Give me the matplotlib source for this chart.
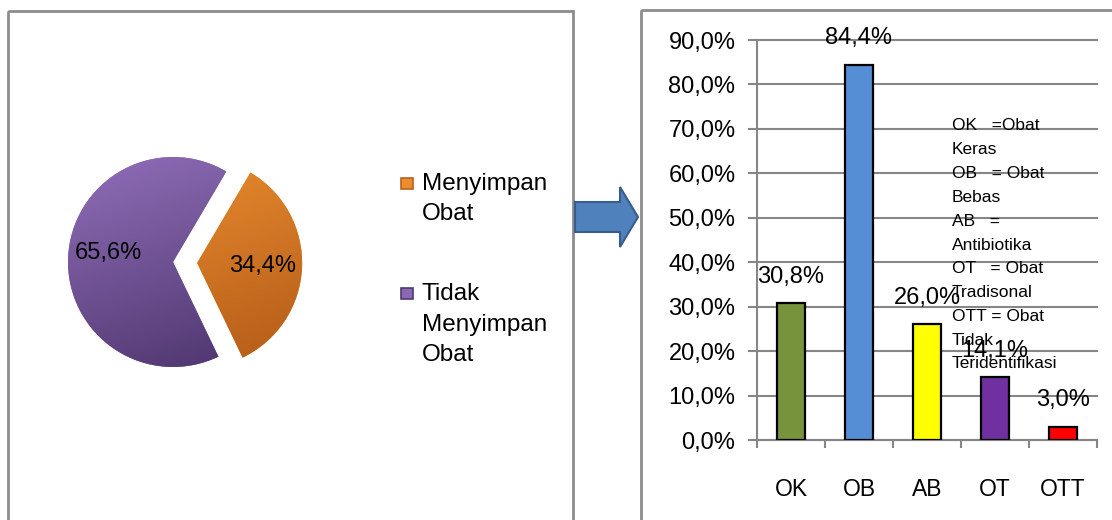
import matplotlib
matplotlib.use('Agg')
import matplotlib.pyplot as plt
import numpy as np
from matplotlib.patches import Rectangle, Polygon
from matplotlib.colors import LinearSegmentedColormap

# ---------------- data ----------------
pie_labels = ['Menyimpan\nObat', 'Tidak\nMenyimpan\nObat']
pie_values = [34.4, 65.6]
pie_top_colors = ['#EA8D2F', '#8A69B2']
pie_bottom_colors = ['#BA611B', '#523972']

bar_categories = ['OK', 'OB', 'AB', 'OT', 'OTT']
bar_values = [30.8, 84.4, 26.0, 14.1, 3.0]
bar_colors = ['#77933C', '#558ED5', '#FFFF00', '#7030A0', '#FF0000']
y_ticks = [0, 10, 20, 30, 40, 50, 60, 70, 80, 90]

notes = ['OK   =Obat', 'Keras', 'OB   = Obat', 'Bebas', 'AB   =',
         'Antibiotika', 'OT   = Obat', 'Tradisonal', 'OTT = Obat',
         'Tidak', 'Teridentifikasi']

plt.rcParams['font.family'] = ['Liberation Sans', 'DejaVu Sans']

W, H = 1112, 520
fig = plt.figure(figsize=(W / 100, H / 100), dpi=100)


def px_axes(x0, y0, w, h):
    """axes from top-left pixel box"""
    return fig.add_axes([x0 / W, 1 - (y0 + h) / H, w / W, h / H])


def pct(v):
    return f'{v:.1f}%'.replace('.', ',')


GRAY = '#8C8C8C'

# ---------------- background: panels + arrow ----------------
bg = px_axes(0, 0, W, H)
bg.set_xlim(0, W)
bg.set_ylim(H, 0)
bg.axis('off')
bg.set_zorder(0)
bg.add_patch(Rectangle((8, 11), 565, 600, fill=False, ec=GRAY, lw=2))
bg.add_patch(Rectangle((641, 10), 600, 600, fill=False, ec=GRAY, lw=2))
arrow_pts = [(575, 202), (620, 202), (620, 187), (638, 217),
             (620, 247), (620, 232), (575, 232)]
bg.add_patch(Polygon(arrow_pts, closed=True, fc='#4F81BD', ec='#385D8A',
                     lw=1.5, zorder=5))

# legend for the pie
y0 = 184
for i, label in enumerate(pie_labels):
    lines = label.split('\n')
    bg.add_patch(Rectangle((401, y0 - 6), 12, 11, fc=pie_top_colors[i],
                           ec=pie_bottom_colors[i], lw=1.2, zorder=3))
    for j, line in enumerate(lines):
        bg.text(422, y0 + j * 30.5, line, va='center', ha='left',
                fontsize=17.5, color='black')
    y0 += 110

# ---------------- pie ----------------
R = 150 / 105
ax_pie = px_axes(173 - 150, 262 - 150, 300, 300)
ax_pie.set_zorder(2)
wedges, texts, autotexts = ax_pie.pie(
    pie_values, startangle=59.5, counterclock=False, explode=[0.23, 0],
    autopct=pct, pctdistance=0.62, colors=pie_top_colors,
    textprops=dict(fontsize=17, color='black'),
    wedgeprops=dict(linewidth=0))
# nudge the larger label slightly upward like the reference
px, py = autotexts[1].get_position()
autotexts[1].set_position((px, py + 0.06))

yy, xx = np.mgrid[-R:R:300j, -R:R:300j]
grad = yy - 0.35 * xx
for w, ct, cb in zip(wedges, pie_top_colors, pie_bottom_colors):
    cmap = LinearSegmentedColormap.from_list('g', [cb, ct])
    im = ax_pie.imshow(grad, extent=[-R, R, -R, R], origin='lower',
                       cmap=cmap, vmin=-1.1, vmax=1.1,
                       zorder=w.get_zorder() + 0.1, interpolation='bilinear')
    im.set_clip_path(w)
for t in autotexts:
    t.set_zorder(5)
ax_pie.set_xlim(-R, R)
ax_pie.set_ylim(-R, R)
ax_pie.set_aspect('equal')
ax_pie.axis('off')

# ---------------- bar chart ----------------
ax = px_axes(757, 40, 340, 400)
ax.set_zorder(2)
ax.patch.set_alpha(0)
x = np.arange(len(bar_categories))
bars = ax.bar(x, bar_values, width=0.42, color=bar_colors,
              edgecolor='black', linewidth=1.6, zorder=3)
ax.set_xlim(-0.5, len(bar_categories) - 0.5)
ax.set_ylim(0, 90)
ax.set_yticks(y_ticks)
ax.set_yticklabels([pct(v) for v in y_ticks], fontsize=17)
ax.yaxis.grid(True, color='#868686', lw=1.5)
for gl in ax.get_ygridlines():
    gl.set_clip_on(False)
ax.set_axisbelow(True)
ax.tick_params(axis='y', length=6.5, width=1.5, color='#868686', pad=9)
ax.set_xticks(x)
ax.set_xticklabels(bar_categories, fontsize=16.5)
ax.set_xticks(np.arange(-0.5, len(bar_categories), 1), minor=True)
ax.tick_params(axis='x', which='major', length=0, pad=27)
ax.tick_params(axis='x', which='minor', length=6, width=1.5, color='#868686')
for s in ['top', 'right']:
    ax.spines[s].set_visible(False)
for s in ['left', 'bottom']:
    ax.spines[s].set_color('#868686')
    ax.spines[s].set_linewidth(1.5)

for xi, v in zip(x, bar_values):
    ax.annotate(pct(v), (xi, v), xytext=(0, 19), textcoords='offset points',
                ha='center', va='center', fontsize=17, zorder=4)

for j, line in enumerate(notes):
    ax.text(0.5735, (440 - 126 - j * 23.8) / 400, line, transform=ax.transAxes,
            va='center', ha='left', fontsize=12.5, zorder=4)

fig.savefig('out.png', dpi=100)
